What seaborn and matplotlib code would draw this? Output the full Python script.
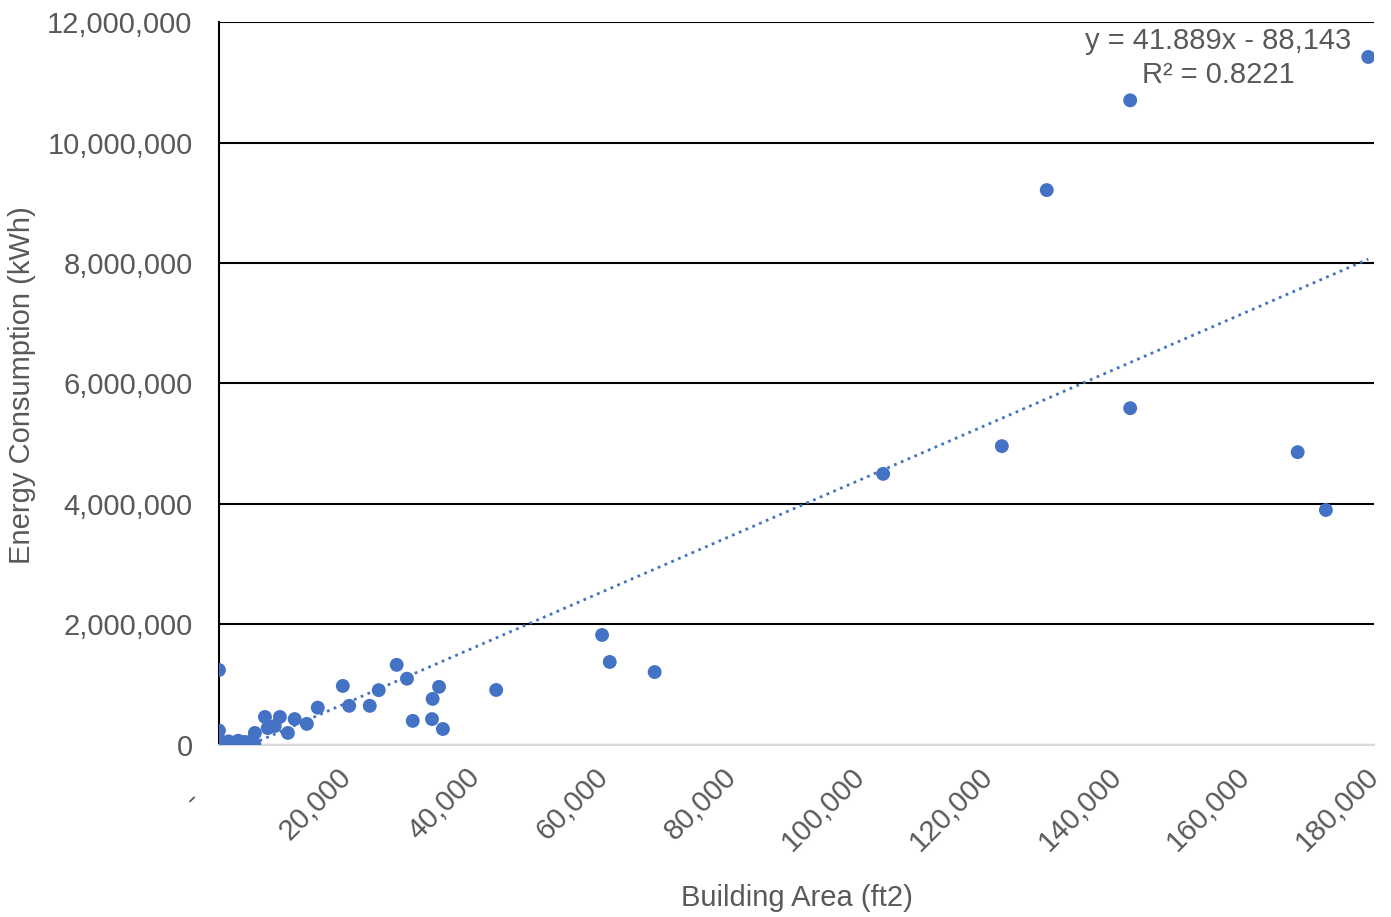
import matplotlib
matplotlib.use('Agg')
import matplotlib.pyplot as plt
import matplotlib.ticker as mticker
import numpy as np
import pandas as pd
import seaborn as sns

# Building area (ft2) vs energy consumption (kWh)
area = [0, 0, 0, 500, 1000, 1500, 2000, 2500, 3000, 3500, 4000, 4500, 5000, 5500,
        5600, 7170, 7600, 8700, 9500, 10750, 11800, 13700, 15400,
        19300, 20300, 23500, 24900, 27700, 29300, 30200, 33200, 33300, 34300, 34900,
        43200, 59700, 60900, 67900,
        103500, 122000, 129000, 142000, 142000, 168100, 172500, 179100]
energy = [1245000, 240000, 20000, 50000, 10000, 60000, 20000, 40000, 70000, 15000, 50000, 30000, 60000, 20000,
          200000, 465000, 280000, 315000, 465000, 200000, 430000, 350000, 620000,
          980000, 650000, 650000, 910000, 1330000, 1100000, 400000, 430000, 765000, 965000, 265000,
          913000, 1826000, 1378000, 1210000,
          4500000, 4960000, 9210000, 10700000, 5590000, 4860000, 3900000, 11420000]
trend_label = 'y = 41.889x - 88,143\nR² = 0.8221'

df = pd.DataFrame({'area': area, 'energy': energy})

sns.set_style('white')
plt.rcParams['font.family'] = ['Liberation Sans', 'DejaVu Sans']
grey = '#595959'
blue = '#4472C4'
fs = 21

fig = plt.figure(figsize=(13.91, 9.17), dpi=100)
ax = fig.add_axes([0.1574, 0.1876, 0.8304, 0.7884])

sns.scatterplot(data=df, x='area', y='energy', ax=ax, color=blue, s=100,
                edgecolor='none', zorder=3)
sns.regplot(data=df, x='area', y='energy', ax=ax, scatter=False, ci=None,
            truncate=True, line_kws={'color': blue, 'linestyle': ':', 'linewidth': 2})

ax.set_xlim(0, 180000)
ax.set_ylim(0, 12000000)
ax.xaxis.set_major_locator(mticker.MultipleLocator(20000))
ax.yaxis.set_major_locator(mticker.MultipleLocator(2000000))
# excel accounting style: zero shows as a dash
ax.xaxis.set_major_formatter(mticker.FuncFormatter(lambda v, p: '-    ' if v == 0 else f'{v:,.0f}'))
ax.yaxis.set_major_formatter(mticker.FuncFormatter(lambda v, p: f'{v:,.0f}'))

ax.grid(axis='y', color='black', linewidth=1.5)
ax.set_axisbelow(True)
for s in ['top', 'right']:
    ax.spines[s].set_visible(False)
ax.spines['left'].set_color('black')
ax.spines['left'].set_linewidth(1.5)
ax.spines['bottom'].set_color('#d9d9d9')
ax.spines['bottom'].set_linewidth(1.5)

ax.tick_params(axis='both', length=0, labelsize=fs, labelcolor=grey)
ax.tick_params(axis='y', pad=19)
ax.tick_params(axis='x', pad=20)
for lab in ax.get_xticklabels():
    lab.set_rotation(45)
    lab.set_ha('right')
    lab.set_va('center')
    lab.set_rotation_mode('anchor')

ax.set_xlabel('Building Area (ft2)', fontsize=fs, color=grey, va='center')
ax.set_ylabel('Energy Consumption (kWh)', fontsize=fs, color=grey, va='center')
ax.xaxis.set_label_coords(0.5004, -0.2116)
ax.yaxis.set_label_coords(-0.1706, 0.498)

ax.text(0.865, 0.950, trend_label, transform=ax.transAxes, ha='center', va='center',
        fontsize=fs, color=grey, linespacing=1.3)

fig.savefig('out.png', dpi=100)
